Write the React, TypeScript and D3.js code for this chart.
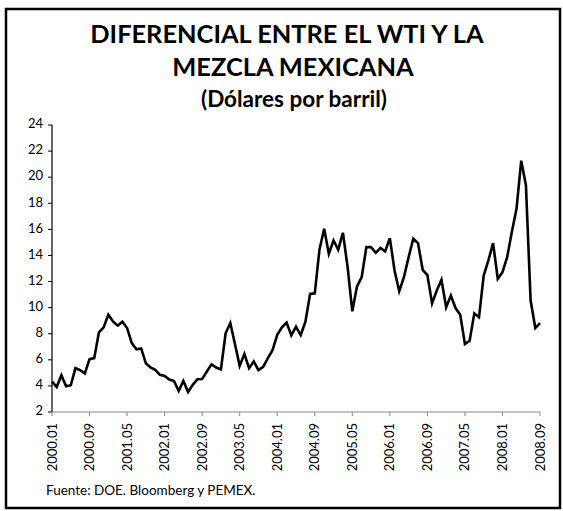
import * as d3 from "d3";

// monthly WTI - Mexican mix differential, 2000.01 .. 2008.09
const startYear = 2000;
const values = [
  4.33, 3.92, 4.82, 3.97, 4.05, 5.36, 5.2, 4.95, 6.05, 6.13, 8.1, 8.49,
  9.46, 8.95, 8.62, 8.92, 8.44, 7.28, 6.8, 6.87, 5.74, 5.41, 5.23, 4.85,
  4.77, 4.49, 4.38, 3.62, 4.38, 3.54, 4.08, 4.51, 4.53, 5.1, 5.65, 5.41,
  5.26, 8.03, 8.82, 7.2, 5.54, 6.44, 5.36, 5.87, 5.21, 5.46, 6.13, 6.74,
  7.92, 8.49, 8.85, 7.87, 8.54, 7.9, 8.9, 11.05, 11.1, 14.44, 16.05, 14.13,
  15.15, 14.44, 15.74, 13.1, 9.72, 11.62, 12.35, 14.64, 14.64, 14.2, 14.58, 14.31,
  15.33, 12.85, 11.26, 12.33, 13.87, 15.28, 14.95, 12.9, 12.49, 10.33, 11.31, 12.13,
  10.03, 10.92, 9.97, 9.46, 7.21, 7.46, 9.56, 9.26, 12.46, 13.62, 14.95, 12.21,
  12.72, 13.87, 15.79, 17.59, 21.26, 19.38, 10.54, 8.44, 8.82,
];
const yTicks = [2, 4, 6, 8, 10, 12, 14, 16, 18, 20, 22, 24];
const titleLines = ["DIFERENCIAL ENTRE EL WTI Y LA", "MEZCLA MEXICANA"];
const subtitle = "(Dólares por barril)";
const source = "Fuente: DOE. Bloomberg y PEMEX.";

const monthLabel = (i: number) => {
  const y = startYear + Math.floor(i / 12);
  const m = (i % 12) + 1;
  return `${y}.${String(m).padStart(2, "0")}`;
};

const data = values.map((v, i) => ({ i, label: monthLabel(i), v }));
const xTickIdx = d3.range(0, values.length, 8);

export default function App() {
  const width = 563;
  const height = 511;
  const font = "Lato, 'Open Sans', sans-serif";
  const titleX = [287, 293];

  const x = d3.scaleLinear().domain([0, values.length - 1]).range([52, 540]);
  const y = d3.scaleLinear().domain([2, 24]).range([412, 125]);

  const line = d3
    .line<{ i: number; v: number }>()
    .x((d) => x(d.i))
    .y((d) => y(d.v));

  return (
    <svg
      width={width}
      height={height}
      style={{ position: "absolute", left: 0, top: 0, background: "#fff" }}
      fontFamily={font}
    >
      <rect x={0} y={0} width={width} height={height} fill="#fff" />
      <rect x={6} y={9} width={554} height={499} fill="none" stroke="#000" strokeWidth={2.5} />

      {titleLines.map((t, k) => (
        <text
          key={t}
          x={titleX[k]}
          y={43 + k * 33}
          textAnchor="middle"
          fontSize={25.4}
          fontWeight="bold"
          fill="#000"
        >
          {t}
        </text>
      ))}
      <text x={294} y={107} textAnchor="middle" fontSize={22.5} fontWeight="bold" fill="#000">
        {subtitle}
      </text>

      {/* y axis */}
      <line x1={x(0)} x2={x(0)} y1={y(24)} y2={y(2)} stroke="#000" strokeWidth={1.2} />
      {yTicks.map((t) => (
        <g key={t}>
          <line x1={x(0) - 4} x2={x(0)} y1={y(t)} y2={y(t)} stroke="#000" />
          <text
            x={x(0) - 9}
            y={y(t)}
            textAnchor="end"
            dominantBaseline="middle"
            fontSize={13}
            fill="#000"
          >
            {t}
          </text>
        </g>
      ))}

      {/* x axis */}
      <line x1={x(0)} x2={x(values.length - 1)} y1={y(2)} y2={y(2)} stroke="#888" />
      {xTickIdx.map((i) => (
        <g key={i}>
          <line x1={x(i)} x2={x(i)} y1={y(2)} y2={y(2) + 4} stroke="#888" />
          <text
            transform={`translate(${x(i)},${y(2) + 11}) rotate(-90)`}
            textAnchor="end"
            dy="0.35em"
            fontSize={13}
            fill="#000"
          >
            {data[i].label}
          </text>
        </g>
      ))}

      <path d={line(data) ?? ""} fill="none" stroke="#000" strokeWidth={2.6} strokeLinejoin="miter" />

      <text x={46} y={495} fontSize={13.5} fill="#000">
        {source}
      </text>
    </svg>
  );
}
